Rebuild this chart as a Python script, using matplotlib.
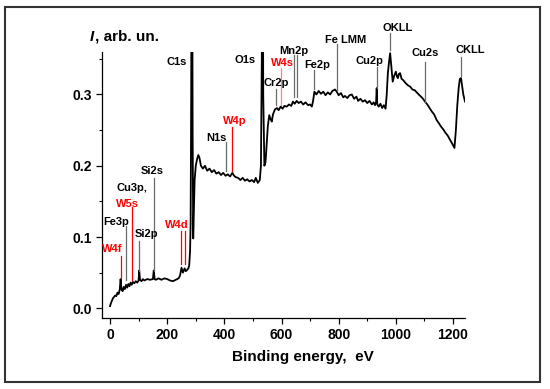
import numpy as np
import matplotlib
matplotlib.use('Agg')
import matplotlib.pyplot as plt
from matplotlib.patches import Rectangle

plt.rcParams['font.family'] = ['Liberation Sans', 'DejaVu Sans']

# survey spectrum (eV, arb. un.)
energy = [0, 3, 6, 10, 14, 18, 22, 26, 30, 34, 37, 40, 44, 48, 52, 56, 60, 64, 68, 72,
          76, 80, 85, 90, 95, 100, 102, 105, 110, 115, 120, 130, 140, 150, 153, 156, 160,
          170, 180, 190, 200, 210, 220, 230, 240, 245, 250, 255, 261, 265, 270,
          274, 277, 280, 282, 284, 285.5, 287, 289, 291, 293, 296, 300, 305, 309, 313,
          318, 325, 332, 340, 348, 356, 364, 372, 380, 388, 396, 404, 412, 420, 428, 434,
          440, 448, 456, 464, 472, 480, 488, 496, 504, 510, 517,
          524, 528, 531, 532.5, 534, 536, 540, 544, 548, 552, 557, 562, 566, 570, 577,
          584, 590, 597, 604, 610, 618, 626, 634, 640, 646, 653, 660, 668, 676, 684, 693,
          700, 706, 710, 715, 722, 730, 738, 746, 754, 762, 770, 778, 787, 793, 800, 808,
          816, 822, 830, 838, 846, 854, 862, 868, 876, 884, 892, 900, 908, 916, 922, 927,
          931, 933, 935, 940, 946, 952, 958, 964,
          968, 972, 976, 980, 984, 989, 994, 1000, 1004, 1007, 1011, 1015, 1020, 1026,
          1034, 1042, 1050, 1058, 1066, 1073, 1080, 1088, 1095, 1102, 1110, 1118, 1126,
          1134, 1143, 1150, 1158, 1166, 1174, 1182, 1190, 1196, 1201, 1205,
          1210, 1215, 1220, 1224, 1228, 1232, 1236, 1239, 1242]
intensity = [0.003, 0.007, 0.010, 0.014, 0.016, 0.018, 0.017, 0.022, 0.020, 0.026, 0.041, 0.027,
             0.024, 0.030, 0.027, 0.033, 0.029, 0.034, 0.031, 0.036, 0.033, 0.037, 0.035, 0.038,
             0.036, 0.039, 0.053, 0.040, 0.038, 0.041, 0.039, 0.041, 0.040, 0.041, 0.053, 0.041,
             0.040, 0.042, 0.040, 0.042, 0.041, 0.039, 0.038, 0.040, 0.042, 0.046, 0.057, 0.050,
             0.056, 0.052, 0.054,
             0.056, 0.060, 0.080, 0.120, 0.300, 0.600, 0.600, 0.250, 0.098, 0.130, 0.180, 0.200,
             0.210, 0.215, 0.211,
             0.200, 0.196, 0.200, 0.193, 0.196, 0.191, 0.194, 0.189, 0.191, 0.187, 0.190, 0.186,
             0.188, 0.185, 0.190, 0.186, 0.184, 0.183, 0.180, 0.183, 0.179, 0.181, 0.178, 0.180,
             0.177, 0.183, 0.176,
             0.180, 0.200, 0.350, 0.600, 0.600, 0.300, 0.200, 0.205, 0.230, 0.255, 0.271, 0.265,
             0.262, 0.272, 0.279,
             0.281, 0.278, 0.283, 0.280, 0.284, 0.283, 0.286, 0.284, 0.290, 0.287, 0.291, 0.288,
             0.290, 0.286, 0.289, 0.285,
             0.286, 0.283, 0.290, 0.304, 0.300, 0.305, 0.301, 0.304, 0.299, 0.303, 0.300, 0.305,
             0.307, 0.304, 0.299, 0.302,
             0.296, 0.298, 0.295, 0.299, 0.300, 0.294, 0.297, 0.291, 0.294, 0.290, 0.292, 0.288,
             0.291, 0.286, 0.289, 0.285,
             0.290, 0.309, 0.286, 0.283, 0.287, 0.281, 0.285, 0.280,
             0.300, 0.330, 0.345, 0.358, 0.340, 0.318, 0.326, 0.332, 0.325, 0.323, 0.329, 0.330,
             0.322, 0.320,
             0.316, 0.313, 0.311, 0.307, 0.306, 0.303, 0.300, 0.297, 0.294, 0.290, 0.286, 0.281,
             0.276, 0.272, 0.264, 0.260, 0.255, 0.251, 0.246, 0.242, 0.236, 0.232, 0.228, 0.225,
             0.250, 0.285, 0.310, 0.322, 0.323, 0.312, 0.300, 0.295, 0.290]

# peak markers: (label, label x, label y, colour)
labels = [('W4f', 8, 0.083, 'red'), ('Fe3p', 23, 0.1216, 'black'),
          ('Cu3p,', 77, 0.1685, 'black'), ('W5s', 61, 0.1465, 'red'),
          ('Si2p', 128, 0.104, 'black'), ('Si2s', 147, 0.193, 'black'),
          ('W4d', 233, 0.1174, 'red'), ('C1s', 234, 0.346, 'black'),
          ('N1s', 373, 0.239, 'black'), ('W4p', 437, 0.2635, 'red'),
          ('O1s', 472, 0.348, 'black'), ('Cr2p', 581, 0.316, 'black'),
          ('W4s', 602, 0.344, 'red'), ('Mn2p', 644, 0.361, 'black'),
          ('Fe2p', 726, 0.342, 'black'), ('Fe LMM', 824, 0.377, 'black'),
          ('Cu2p', 906, 0.347, 'black'), ('OKLL', 1006, 0.393, 'black'),
          ('Cu2s', 1101, 0.358, 'black'), ('CKLL', 1262, 0.362, 'black')]

# marker lines: energy, top, bottom, colour
line_e = [37, 56, 76, 102, 153, 250, 261, 404, 428, 581, 597, 644, 653, 715, 793, 933, 980, 1102, 1227]
line_top = [0.0735, 0.115, 0.142, 0.0945, 0.183, 0.108, 0.108, 0.234, 0.255, 0.308, 0.337,
            0.356, 0.356, 0.335, 0.371, 0.339, 0.386, 0.345, 0.353]
line_bot = [0.042, 0.040, 0.040, 0.053, 0.053, 0.062, 0.062, 0.193, 0.192, 0.2855, 0.2855,
            0.296, 0.296, 0.3075, 0.3056, 0.309, 0.363, 0.290, 0.326]
line_col = ['red', 'dimgray', 'red', 'dimgray', 'dimgray', 'red', 'red', 'dimgray', 'red',
            'dimgray', '#ff8080', 'dimgray', 'dimgray', 'dimgray', 'dimgray', 'dimgray',
            'dimgray', 'dimgray', 'dimgray']

fig = plt.figure(figsize=(5.5, 3.89), dpi=100)
ax = fig.add_axes([0.1855, 0.1833, 0.66, 0.6837])

ax.plot(energy, intensity, color='black', lw=1.3)

for e, t, b, c in zip(line_e, line_top, line_bot, line_col):
    ax.plot([e, e], [b, t], color=c, lw=0.9, clip_on=False)
for txt, x, y, c in labels:
    ax.text(x, y, txt, color=c, fontsize=8, fontweight='bold',
            ha='center', va='center', clip_on=False)

ax.set_xlim(-28, 1242)
ax.set_ylim(-0.0132, 0.36)
ax.set_xticks([0, 200, 400, 600, 800, 1000, 1200])
ax.set_xticks(np.arange(100, 1200, 200), minor=True)
ax.set_yticks([0.0, 0.1, 0.2, 0.3])
ax.set_yticks([0.05, 0.15, 0.25, 0.35], minor=True)
ax.set_yticklabels(['0.0', '0.1', '0.2', '0.3'])
for lab in ax.get_xticklabels() + ax.get_yticklabels():
    lab.set_fontweight('bold')
ax.tick_params(which='major', direction='out', length=4, width=0.9, labelsize=10)
ax.tick_params(which='minor', direction='out', length=2.5, width=0.8)
ax.spines['top'].set_visible(False)
ax.spines['right'].set_visible(False)
ax.spines['left'].set_linewidth(0.9)
ax.spines['bottom'].set_linewidth(0.9)

fig.text(302.7 / 550, 1 - 356.7 / 389, 'Binding energy,  eV', fontsize=11,
         fontweight='bold', ha='center', va='center')
fig.text(90 / 550, 1 - 36.7 / 389, 'I', fontsize=11, fontweight='bold',
         style='italic', ha='left', va='center')
fig.text(95 / 550, 1 - 36.7 / 389, ', arb. un.', fontsize=11, fontweight='bold',
         ha='left', va='center')

fig.patches.append(Rectangle((5 / 550, 1 - 381.7 / 389), 535 / 550, 375 / 389,
                             transform=fig.transFigure, fill=False,
                             edgecolor='#333333', lw=1.5))

fig.savefig('out.png', dpi=100)
